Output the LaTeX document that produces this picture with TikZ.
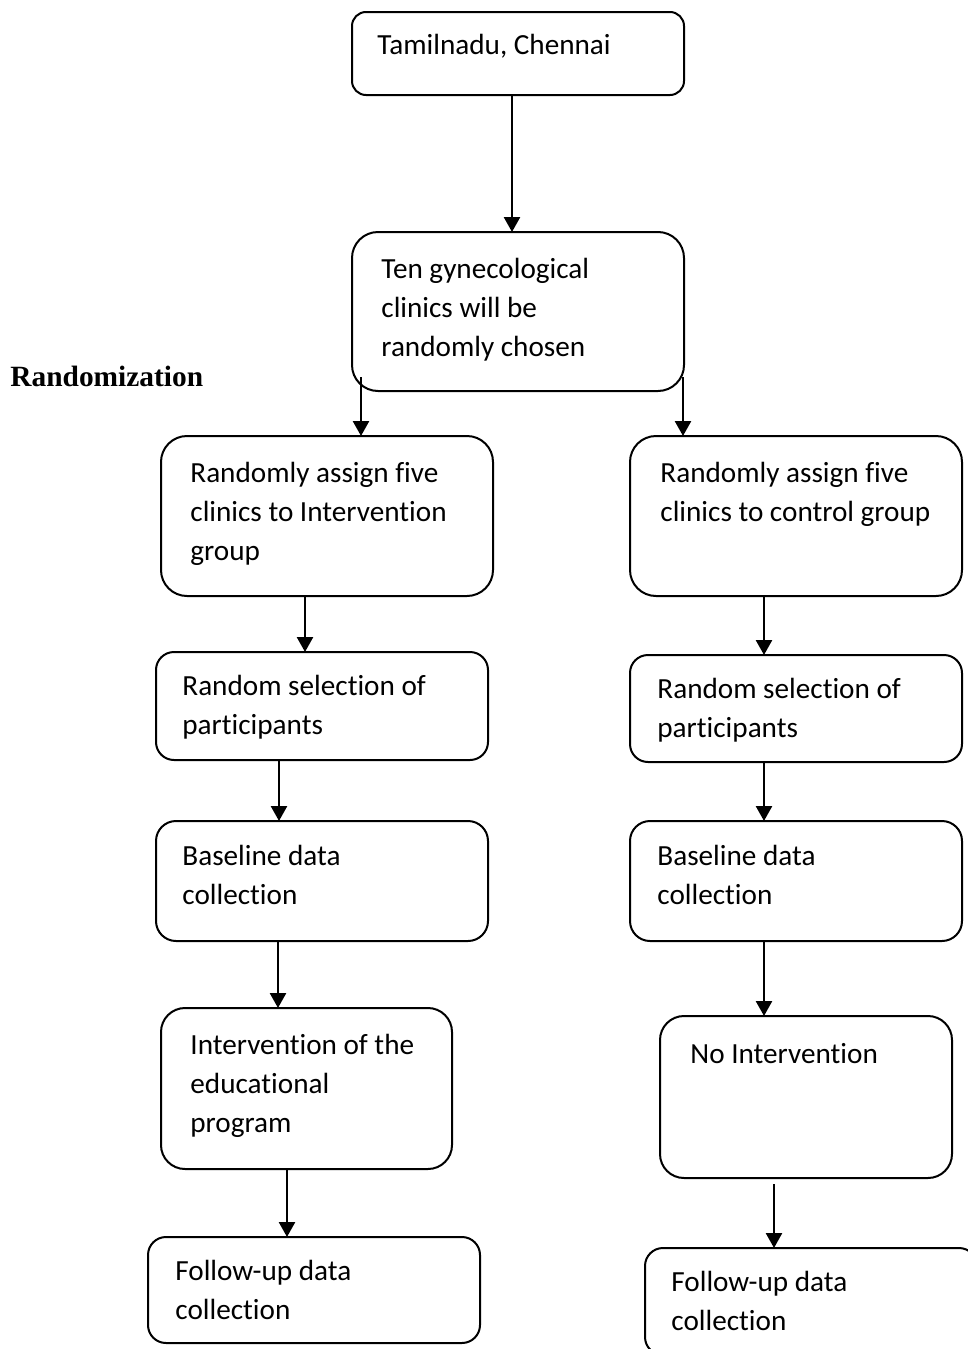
\documentclass[tikz,border=0pt]{standalone}
\usepackage{fontspec}
\setmainfont[Ligatures={NoCommon,NoRequired,NoContextual},Contextuals=NoAlternate,RawFeature={-liga;-rlig;-dlig;-ccmp}]{Carlito}
\newfontfamily\randfont{Liberation Serif}
\usetikzlibrary{arrows.meta}

\begin{document}
\begin{tikzpicture}[x=0.5pt,y=-0.5pt]
      \useasboundingbox (0,0) rectangle (968,1349);
      \begin{scope}[every node/.style={draw,line width=1pt,inner sep=0pt,outer sep=0pt}]
        \node[rounded corners=7pt,minimum width=166pt,minimum height=41.5pt] (b1) at (518,53.5) {};
        \node[rounded corners=13pt,minimum width=166pt,minimum height=79.5pt] (b2) at (518,311.5) {};
        \node[rounded corners=13pt,minimum width=166pt,minimum height=80pt] (b3) at (327,516) {};
        \node[rounded corners=13pt,minimum width=166pt,minimum height=80pt] (b4) at (796,516) {};
        \node[rounded corners=9pt,minimum width=166pt,minimum height=54pt] (b5) at (322,706) {};
        \node[rounded corners=9pt,minimum width=166pt,minimum height=53.5pt] (b6) at (796,708.5) {};
        \node[rounded corners=10pt,minimum width=166pt,minimum height=60pt] (b7) at (322,881) {};
        \node[rounded corners=10pt,minimum width=166pt,minimum height=60pt] (b8) at (796,881) {};
        \node[rounded corners=12pt,minimum width=145.5pt,minimum height=80.5pt] (b9) at (306.5,1088.5) {};
        \node[rounded corners=12pt,minimum width=146pt,minimum height=81pt] (b10) at (806,1097) {};
        \node[rounded corners=9pt,minimum width=166pt,minimum height=53pt] (b11) at (314,1290) {};
        \node[rounded corners=9pt,minimum width=166pt,minimum height=53.5pt] (b12) at (811,1301.5) {};
      \end{scope}
      \begin{scope}[every node/.style={anchor=north west,align=left,inner sep=0pt,font=\fontsize{14.6}{19.5}\selectfont}]
        \node (t1) at (377,26.7) {\strut Tamilnadu, Chennai};
        \node (t2) at (381,250.7) {\strut Ten gynecological\\clinics will be\\randomly chosen};
        \node (t3) at (190,454.7) {\strut Randomly assign five\\clinics to Intervention\\group};
        \node (t4) at (660,454.7) {\strut Randomly assign five\\clinics to control group};
        \node (t5) at (182,667.7) {\strut Random selection of\\participants};
        \node (t6) at (657,670.7) {\strut Random selection of\\participants};
        \node (t7) at (182,837.7) {\strut Baseline data\\collection};
        \node (t8) at (657,837.7) {\strut Baseline data\\collection};
        \node (t9) at (190,1026.7) {\strut Intervention of the\\educational\\program};
        \node (t10) at (690,1035.7) {\strut No Intervention};
        \node (t11) at (175,1252.7) {\strut Follow-up data\\collection};
        \node (t12) at (671,1263.7) {\strut Follow-up data\\collection};
      \end{scope}
      \node[anchor=base west,inner sep=0pt,font=\randfont\bfseries\fontsize{14.7}{17}\selectfont] (rand) at (10,386) {Randomization};
      \coordinate (s2l) at (361,377);
      \coordinate (s2r) at (683,377);
      \begin{scope}[every edge/.style={draw,line width=1.3pt,-{Triangle[width=8pt,length=7.5pt]}}]
        \path (b1.south -| 512,0) edge (b2.north -| 512,0);
        \path (s2l) edge (s2l |- b3.north);
        \path (s2r) edge (s2r |- b4.north);
        \path (b3.south -| 305,0) edge (b5.north -| 305,0);
        \path (b4.south -| 764,0) edge (b6.north -| 764,0);
        \path (b5.south -| 279,0) edge (b7.north -| 279,0);
        \path (b6.south -| 764,0) edge (b8.north -| 764,0);
        \path (b7.south -| 278,0) edge (b9.north -| 278,0);
        \path (b8.south -| 764,0) edge (b10.north -| 764,0);
        \path (b9.south -| 287,0) edge (b11.north -| 287,0);
        \path ([yshift=-3pt]b10.south -| 774,0) edge (b12.north -| 774,0);
      \end{scope}
\end{tikzpicture}
\end{document}
